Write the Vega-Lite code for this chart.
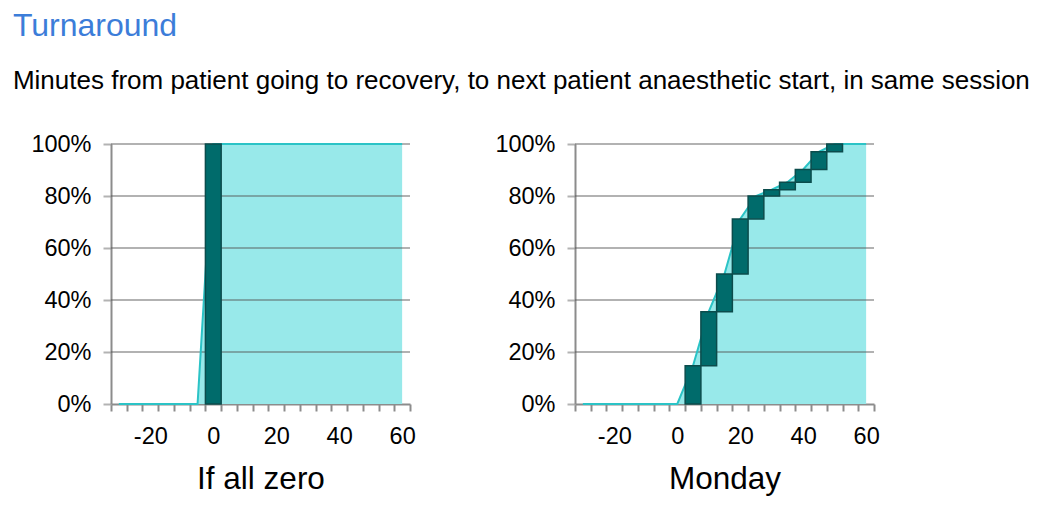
{
  "$schema": "https://vega.github.io/schema/vega-lite/v6.json",
  "background": "white",
  "padding": {"left": 12, "top": 10, "right": 5, "bottom": 5},
  "title": {
    "text": "Turnaround",
    "subtitle": "Minutes from patient going to recovery, to next patient anaesthetic start, in same session",
    "anchor": "start",
    "frame": "bounds",
    "dx": -18,
    "font": "Liberation Sans",
    "fontSize": 32,
    "fontWeight": "normal",
    "color": "#3c7dd9",
    "subtitleFont": "Liberation Sans",
    "subtitleFontSize": 26,
    "subtitleColor": "#000000",
    "subtitlePadding": 25,
    "offset": 37
  },
  "datasets": {
    "cdf": [
      {"panel": "If all zero", "minute": -30, "cum": 0},
      {"panel": "If all zero", "minute": -25, "cum": 0},
      {"panel": "If all zero", "minute": -20, "cum": 0},
      {"panel": "If all zero", "minute": -15, "cum": 0},
      {"panel": "If all zero", "minute": -10, "cum": 0},
      {"panel": "If all zero", "minute": -5, "cum": 0},
      {"panel": "If all zero", "minute": 0, "cum": 1, "prev": 0},
      {"panel": "If all zero", "minute": 5, "cum": 1},
      {"panel": "If all zero", "minute": 10, "cum": 1},
      {"panel": "If all zero", "minute": 15, "cum": 1},
      {"panel": "If all zero", "minute": 20, "cum": 1},
      {"panel": "If all zero", "minute": 25, "cum": 1},
      {"panel": "If all zero", "minute": 30, "cum": 1},
      {"panel": "If all zero", "minute": 35, "cum": 1},
      {"panel": "If all zero", "minute": 40, "cum": 1},
      {"panel": "If all zero", "minute": 45, "cum": 1},
      {"panel": "If all zero", "minute": 50, "cum": 1},
      {"panel": "If all zero", "minute": 55, "cum": 1},
      {"panel": "If all zero", "minute": 60, "cum": 1},
      {"panel": "Monday", "minute": -30, "cum": 0},
      {"panel": "Monday", "minute": -25, "cum": 0},
      {"panel": "Monday", "minute": -20, "cum": 0},
      {"panel": "Monday", "minute": -15, "cum": 0},
      {"panel": "Monday", "minute": -10, "cum": 0},
      {"panel": "Monday", "minute": -5, "cum": 0},
      {"panel": "Monday", "minute": 0, "cum": 0},
      {"panel": "Monday", "minute": 5, "cum": 0.147, "prev": 0},
      {"panel": "Monday", "minute": 10, "cum": 0.355, "prev": 0.147},
      {"panel": "Monday", "minute": 15, "cum": 0.5, "prev": 0.355},
      {"panel": "Monday", "minute": 20, "cum": 0.712, "prev": 0.5},
      {"panel": "Monday", "minute": 25, "cum": 0.8, "prev": 0.712},
      {"panel": "Monday", "minute": 30, "cum": 0.824, "prev": 0.8},
      {"panel": "Monday", "minute": 35, "cum": 0.853, "prev": 0.824},
      {"panel": "Monday", "minute": 40, "cum": 0.902, "prev": 0.853},
      {"panel": "Monday", "minute": 45, "cum": 0.97, "prev": 0.902},
      {"panel": "Monday", "minute": 50, "cum": 1, "prev": 0.97},
      {"panel": "Monday", "minute": 55, "cum": 1},
      {"panel": "Monday", "minute": 60, "cum": 1}
    ],
    "grid": [{"pct": 0.2}, {"pct": 0.4}, {"pct": 0.6}, {"pct": 0.8}, {"pct": 1}]
  },
  "config": {
    "view": {"stroke": null},
    "font": "Liberation Sans",
    "axis": {
      "labelFont": "Liberation Sans",
      "labelFontSize": 23.5,
      "labelColor": "#000000",
      "titleFont": "Liberation Sans",
      "titleFontSize": 31.5,
      "titleFontWeight": "normal",
      "titleColor": "#000000",
      "domainColor": "#8c8c8c",
      "domainWidth": 2,
      "grid": false
    }
  },
  "bounds": "flush",
  "spacing": 165,
  "hconcat": [
    {
      "width": 299,
      "height": 260,
      "layer": [
        {
          "data": {"name": "cdf"},
          "transform": [{"filter": "datum.panel === 'If all zero'"}],
          "mark": {"type": "area", "color": "#98e9ea", "opacity": 1},
          "encoding": {
            "x": {"field": "minute", "type": "ordinal", "sort": null,
              "scale": {"domain": [-30,-25,-20,-15,-10,-5,0,5,10,15,20,25,30,35,40,45,50,55,60], "paddingInner": 0, "paddingOuter": 0},
              "axis": {"title": "If all zero", "tickBand": "extent", "labelAngle": 0, "labelExpr": "datum.value % 20 === 0 ? datum.label : ''", "tickSize": 7, "tickWidth": 2, "tickColor": "#8c8c8c", "labelPadding": 13, "titlePadding": 16}},
            "y": {"field": "cum", "type": "quantitative", "scale": {"domain": [0, 1], "nice": false},
              "axis": {"title": null, "values": [0, 0.2, 0.4, 0.6, 0.8, 1], "format": ".0%", "tickSize": 8, "tickWidth": 2, "tickColor": "#b3b3b3", "labelPadding": 12}}
          }
        },
        {
          "data": {"name": "grid"},
          "mark": {"type": "rule", "color": "#555555", "opacity": 0.45, "strokeWidth": 2},
          "encoding": {"y": {"field": "pct", "type": "quantitative", "scale": {"domain": [0, 1], "nice": false}, "axis": {"title": null, "values": [0, 0.2, 0.4, 0.6, 0.8, 1], "format": ".0%", "tickSize": 8, "tickWidth": 2, "tickColor": "#b3b3b3", "labelPadding": 12}}}
        },
        {
          "data": {"name": "cdf"},
          "transform": [{"filter": "datum.panel === 'If all zero'"}],
          "mark": {"type": "line", "color": "#2bc3c6", "strokeWidth": 2},
          "encoding": {
            "x": {"field": "minute", "type": "ordinal", "sort": null,
              "scale": {"domain": [-30,-25,-20,-15,-10,-5,0,5,10,15,20,25,30,35,40,45,50,55,60], "paddingInner": 0, "paddingOuter": 0},
              "axis": {"title": "If all zero", "tickBand": "extent", "labelAngle": 0, "labelExpr": "datum.value % 20 === 0 ? datum.label : ''", "tickSize": 7, "tickWidth": 2, "tickColor": "#8c8c8c", "labelPadding": 13, "titlePadding": 16}},
            "y": {"field": "cum", "type": "quantitative", "scale": {"domain": [0, 1], "nice": false},
              "axis": {"title": null, "values": [0, 0.2, 0.4, 0.6, 0.8, 1], "format": ".0%", "tickSize": 8, "tickWidth": 2, "tickColor": "#b3b3b3", "labelPadding": 12}}
          }
        },
        {
          "data": {"name": "cdf"},
          "transform": [{"filter": "datum.panel === 'If all zero' && isValid(datum.prev)"}],
          "mark": {"type": "bar", "color": "#006b6b", "stroke": "#0b4c4c", "strokeWidth": 1.5},
          "encoding": {
            "x": {"field": "minute", "type": "ordinal", "sort": null,
              "scale": {"domain": [-30,-25,-20,-15,-10,-5,0,5,10,15,20,25,30,35,40,45,50,55,60], "paddingInner": 0, "paddingOuter": 0},
              "axis": {"title": "If all zero", "tickBand": "extent", "labelAngle": 0, "labelExpr": "datum.value % 20 === 0 ? datum.label : ''", "tickSize": 7, "tickWidth": 2, "tickColor": "#8c8c8c", "labelPadding": 13, "titlePadding": 16}},
            "y": {"field": "prev", "type": "quantitative", "scale": {"domain": [0, 1], "nice": false},
              "axis": {"title": null, "values": [0, 0.2, 0.4, 0.6, 0.8, 1], "format": ".0%", "tickSize": 8, "tickWidth": 2, "tickColor": "#b3b3b3", "labelPadding": 12}},
            "y2": {"field": "cum"}
          }
        }
      ]
    },
    {
      "width": 299,
      "height": 260,
      "layer": [
        {
          "data": {"name": "cdf"},
          "transform": [{"filter": "datum.panel === 'Monday'"}],
          "mark": {"type": "area", "color": "#98e9ea", "opacity": 1},
          "encoding": {
            "x": {"field": "minute", "type": "ordinal", "sort": null,
              "scale": {"domain": [-30,-25,-20,-15,-10,-5,0,5,10,15,20,25,30,35,40,45,50,55,60], "paddingInner": 0, "paddingOuter": 0},
              "axis": {"title": "Monday", "tickBand": "extent", "labelAngle": 0, "labelExpr": "datum.value % 20 === 0 ? datum.label : ''", "tickSize": 7, "tickWidth": 2, "tickColor": "#8c8c8c", "labelPadding": 13, "titlePadding": 16}},
            "y": {"field": "cum", "type": "quantitative", "scale": {"domain": [0, 1], "nice": false},
              "axis": {"title": null, "values": [0, 0.2, 0.4, 0.6, 0.8, 1], "format": ".0%", "tickSize": 8, "tickWidth": 2, "tickColor": "#b3b3b3", "labelPadding": 12}}
          }
        },
        {
          "data": {"name": "grid"},
          "mark": {"type": "rule", "color": "#555555", "opacity": 0.45, "strokeWidth": 2},
          "encoding": {"y": {"field": "pct", "type": "quantitative", "scale": {"domain": [0, 1], "nice": false}, "axis": {"title": null, "values": [0, 0.2, 0.4, 0.6, 0.8, 1], "format": ".0%", "tickSize": 8, "tickWidth": 2, "tickColor": "#b3b3b3", "labelPadding": 12}}}
        },
        {
          "data": {"name": "cdf"},
          "transform": [{"filter": "datum.panel === 'Monday'"}],
          "mark": {"type": "line", "color": "#2bc3c6", "strokeWidth": 2},
          "encoding": {
            "x": {"field": "minute", "type": "ordinal", "sort": null,
              "scale": {"domain": [-30,-25,-20,-15,-10,-5,0,5,10,15,20,25,30,35,40,45,50,55,60], "paddingInner": 0, "paddingOuter": 0},
              "axis": {"title": "Monday", "tickBand": "extent", "labelAngle": 0, "labelExpr": "datum.value % 20 === 0 ? datum.label : ''", "tickSize": 7, "tickWidth": 2, "tickColor": "#8c8c8c", "labelPadding": 13, "titlePadding": 16}},
            "y": {"field": "cum", "type": "quantitative", "scale": {"domain": [0, 1], "nice": false},
              "axis": {"title": null, "values": [0, 0.2, 0.4, 0.6, 0.8, 1], "format": ".0%", "tickSize": 8, "tickWidth": 2, "tickColor": "#b3b3b3", "labelPadding": 12}}
          }
        },
        {
          "data": {"name": "cdf"},
          "transform": [{"filter": "datum.panel === 'Monday' && isValid(datum.prev)"}],
          "mark": {"type": "bar", "color": "#006b6b", "stroke": "#0b4c4c", "strokeWidth": 1.5},
          "encoding": {
            "x": {"field": "minute", "type": "ordinal", "sort": null,
              "scale": {"domain": [-30,-25,-20,-15,-10,-5,0,5,10,15,20,25,30,35,40,45,50,55,60], "paddingInner": 0, "paddingOuter": 0},
              "axis": {"title": "Monday", "tickBand": "extent", "labelAngle": 0, "labelExpr": "datum.value % 20 === 0 ? datum.label : ''", "tickSize": 7, "tickWidth": 2, "tickColor": "#8c8c8c", "labelPadding": 13, "titlePadding": 16}},
            "y": {"field": "prev", "type": "quantitative", "scale": {"domain": [0, 1], "nice": false},
              "axis": {"title": null, "values": [0, 0.2, 0.4, 0.6, 0.8, 1], "format": ".0%", "tickSize": 8, "tickWidth": 2, "tickColor": "#b3b3b3", "labelPadding": 12}},
            "y2": {"field": "cum"}
          }
        }
      ]
    }
  ]
}
